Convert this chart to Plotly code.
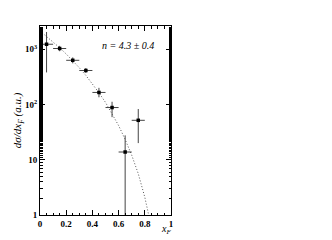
import plotly.graph_objects as go

# Data points
x_pts = [0.05, 0.15, 0.25, 0.35, 0.45, 0.55, 0.65, 0.75]
y_pts = [1230, 1030, 630, 412, 165, 88, 13.8, 51.7]
y_err_up = [820, 120, 80, 45, 35, 24, 13.8, 31]
y_err_dn = [850, 110, 75, 40, 30, 29, 13.7, 31.7]
x_err = [0.05, 0.05, 0.05, 0.05, 0.05, 0.05, 0.05, 0.05]

# Fit curve
x_fit = [0.0, 0.05, 0.1, 0.15, 0.2, 0.25, 0.3, 0.35, 0.4, 0.45, 0.5, 0.55,
         0.6, 0.65, 0.7, 0.75, 0.8, 0.85]
y_fit = [2140, 1716, 1360, 1063, 820, 620, 462, 336, 238, 163, 109, 69,
         41.6, 23.3, 12.1, 5.6, 2.1, 0.6]

x_ticks = [0, 0.2, 0.4, 0.6, 0.8, 1]
x_tick_text = ["<b>0</b>", "<b>0.2</b>", "<b>0.4</b>", "<b>0.6</b>", "<b>0.8</b>", "<b>1</b>"]
y_ticks = [1, 10, 100, 1000]
y_tick_text = ["<b>1</b>", "<b>10</b>", "<b>10<sup>2</sup></b>", "<b>10<sup>3</sup></b>"]

font = "Liberation Serif"

fig = go.Figure()
fig.add_trace(go.Scatter(
    x=x_fit, y=y_fit, mode="lines",
    line=dict(color="#555555", width=1, dash="1px,2px"),
    showlegend=False, hoverinfo="skip"))
fig.add_trace(go.Scatter(
    x=x_pts, y=y_pts, mode="markers",
    marker=dict(symbol="square", size=3.5, color="black"),
    error_y=dict(type="data", symmetric=False, array=y_err_up,
                 arrayminus=y_err_dn, width=0, thickness=1, color="#444444"),
    error_x=dict(type="data", array=x_err, width=0, thickness=1, color="#444444"),
    showlegend=False))

fig.add_annotation(x=0.67, y=3.07, xref="x", yref="y",
                   text="<i>n = 4.3 ± 0.4</i>", showarrow=False,
                   font=dict(family=font, size=10, color="black"))

fig.add_annotation(x=0.96, y=-0.075, xref="paper", yref="paper",
                   text="<i>x<sub>F</sub></i>", showarrow=False,
                   xanchor="center", yanchor="middle",
                   font=dict(family=font, size=10, color="black"))
fig.add_annotation(x=-0.17, y=0.5, xref="paper", yref="paper",
                   text="<i>dσ/dx<sub>F</sub> (a.u.)</i>", showarrow=False,
                   textangle=-90, xanchor="center", yanchor="middle",
                   font=dict(family=font, size=11, color="black"))

fig.update_xaxes(range=[0, 1], tickvals=x_ticks, ticktext=x_tick_text,
                 ticks="inside", ticklen=5, tickcolor="black", mirror="allticks",
                 showline=True, linecolor="black", linewidth=1,
                 showgrid=False, zeroline=False,
                 minor=dict(dtick=0.05, ticks="inside", ticklen=2.5,
                            tickcolor="black", showgrid=False),
                 tickfont=dict(family=font, size=9, color="black"))
fig.update_yaxes(type="log", range=[0, 3.42], tickvals=y_ticks,
                 ticktext=y_tick_text,
                 ticks="inside", ticklen=5, tickcolor="black", mirror="allticks",
                 showline=True, linecolor="black", linewidth=1,
                 showgrid=False, zeroline=False,
                 minor=dict(ticks="inside", ticklen=2.5, tickcolor="black",
                            showgrid=False),
                 tickfont=dict(family=font, size=9, color="black"))

fig.update_layout(width=332, height=240,
                  margin=dict(l=32, r=169, t=18, b=33),
                  paper_bgcolor="white", plot_bgcolor="white",
                  font=dict(family=font, color="black"))

fig.write_html("out.html")
